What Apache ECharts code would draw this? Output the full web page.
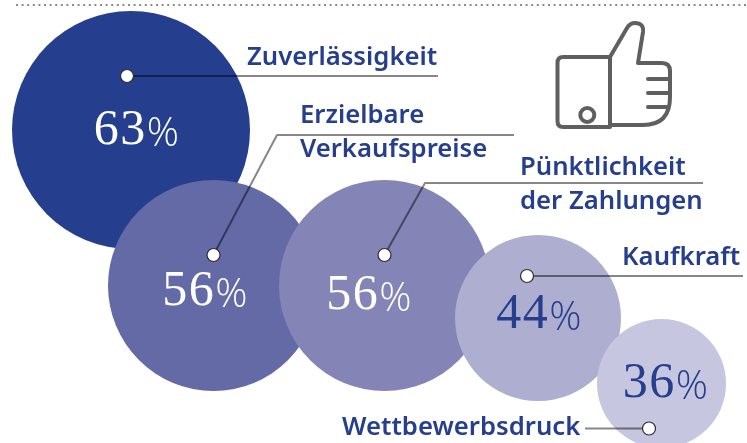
<!DOCTYPE html>
<html lang="en">
  <head>
    <meta charset="UTF-8" />
    <title>ECharts</title>
    <script src="https://cdn.jsdelivr.net/npm/echarts@6/dist/echarts.min.js"></script>
    <style>
      html, body { margin: 0; padding: 0; background: #fff; }
    </style>
  </head>

  <body>
    <div id="main" style="width: 747px; height: 443px"></div>

    <script>
      // values
      var values = [63, 56, 56, 44, 36];
      var labels = ["Zuverlässigkeit", "Erzielbare\nVerkaufspreise", "Pünktlichkeit\nder Zahlungen", "Kaufkraft", "Wettbewerbsdruck"];

      // the chart has no real axes, x/y below are just where the bubbles sit
      var bubbleX = [131, 213.5, 384.5, 538, 661.5];
      var bubbleY = [130, 285.5, 285.5, 318, 383.5];
      var bubbleSize = [238, 211, 211, 166, 129];
      var bubbleColor = ["#253e8d", "#636aa6", "#8584b6", "#aeaed1", "#c6c6e0"];
      var valueColor = ["#fff", "#fff", "#fff", "#253e8d", "#253e8d"];
      var valueX = [136.5, 205, 369, 539, 665.5];
      var valueY = [131, 292, 296, 315, 384];
      var labelX = [247, 300, 520, 622, 342];
      var labelY = [58, 132.5, 184.5, 258, 428];
      var leaders = [
        [[127, 76], [438, 76]],
        [[213.5, 255], [277, 135], [514, 135]],
        [[384.5, 255], [425, 183], [703, 183]],
        [[527, 276], [743, 276]],
        [[649, 428.5], [585, 428.5]],
      ];

      var BLUE = "#253e8d";

      // thumbs up icon
      echarts.graphic.registerShape("thumb", echarts.graphic.extendShape({
        shape: {},
        buildPath: function (ctx) {
          ctx.moveTo(563, 57);
          ctx.lineTo(610, 57);
          ctx.lineTo(610, 127);
          ctx.lineTo(563, 127);
          ctx.quadraticCurveTo(557.5, 127, 557.5, 121);
          ctx.lineTo(557.5, 63);
          ctx.quadraticCurveTo(557.5, 57, 563, 57);
          ctx.closePath();
          ctx.moveTo(610, 57);
          ctx.lineTo(627, 28);
          ctx.quadraticCurveTo(630, 23, 635, 23);
          ctx.quadraticCurveTo(644, 23, 643, 32);
          ctx.lineTo(638, 63);
          ctx.lineTo(662, 63);
          ctx.quadraticCurveTo(670, 63, 670, 71);
          ctx.lineTo(670, 97);
          ctx.quadraticCurveTo(670, 125, 643, 125);
          ctx.lineTo(610, 125);
          ctx.moveTo(648, 79);
          ctx.lineTo(669, 79);
          ctx.moveTo(648, 93);
          ctx.lineTo(669, 93);
          ctx.moveTo(648, 107);
          ctx.lineTo(668, 107);
        },
      }));

      var myChart = echarts.init(document.getElementById("main"), null, { renderer: "canvas" });

      var series = [];
      series.push({
        type: "scatter",
        silent: true,
        z: 2,
        data: values.map(function (v, i) {
          return { value: [bubbleX[i], bubbleY[i], v], symbolSize: bubbleSize[i], itemStyle: { color: bubbleColor[i], opacity: 1 } };
        }),
      });
      // leader lines
      leaders.forEach(function (pts) {
        series.push({
          type: "line",
          silent: true,
          z: 3,
          symbol: "none",
          data: pts,
          lineStyle: { color: "rgba(0,0,0,0.47)", width: 2 },
        });
      });
      // white dots on the start of each leader
      series.push({
        type: "scatter",
        silent: true,
        z: 4,
        symbolSize: 13,
        itemStyle: { color: "#fff", borderColor: "#2b2b33", borderWidth: 1.2, opacity: 1 },
        data: leaders.map(function (pts) { return pts[0]; }),
      });
      // percent numbers, digits one by one so they can be spaced a bit
      series.push({
        type: "scatter",
        silent: true,
        z: 5,
        symbolSize: 0,
        itemStyle: { opacity: 1 },
        data: values.map(function (v, i) {
          var digits = String(v).split("").map(function (d) { return "{n|" + d + "}"; }).join("");
          return {
            value: [valueX[i], valueY[i]],
            label: {
              show: true,
              position: "inside",
              formatter: digits + "{p|%}",
              rich: {
                n: { fontFamily: "Liberation Serif", fontSize: 50, color: valueColor[i], padding: [0, 1.5, 0, 0] },
                p: { fontFamily: "Open Sans", fontSize: 40, fontWeight: 300, color: valueColor[i], padding: [8, 0, 0, 0] },
              },
            },
          };
        }),
      });
      // category names
      series.push({
        type: "scatter",
        silent: true,
        z: 5,
        symbolSize: 0,
        itemStyle: { opacity: 1 },
        data: labels.map(function (t, i) {
          return {
            value: [labelX[i], labelY[i]],
            label: {
              show: true,
              position: "right",
              distance: 0,
              formatter: t,
              color: BLUE,
              fontFamily: "Noto Sans",
              fontWeight: 600,
              fontSize: 25.7,
              lineHeight: 34,
              align: "left",
            },
          };
        }),
      });

      var option = {
        animation: false,
        grid: { left: 0, right: 0, top: 0, bottom: 0 },
        xAxis: { type: "value", min: 0, max: 747, show: false },
        yAxis: { type: "value", min: 0, max: 443, inverse: true, show: false },
        graphic: [
          {
            type: "line",
            silent: true,
            shape: { x1: 16, y1: 5, x2: 747, y2: 5 },
            style: { stroke: "#8a8a8a", lineWidth: 2, lineDash: [2, 3.6] },
          },
          {
            type: "thumb",
            silent: true,
            style: { fill: null, stroke: "#5f5f5f", lineWidth: 4, lineCap: "round", lineJoin: "round" },
          },
          {
            type: "circle",
            silent: true,
            shape: { cx: 587.3, cy: 115, r: 7 },
            style: { fill: null, stroke: "#5f5f5f", lineWidth: 4 },
          },
        ],
        series: series,
      };
      myChart.setOption(option);
    </script>
  </body>
</html>
